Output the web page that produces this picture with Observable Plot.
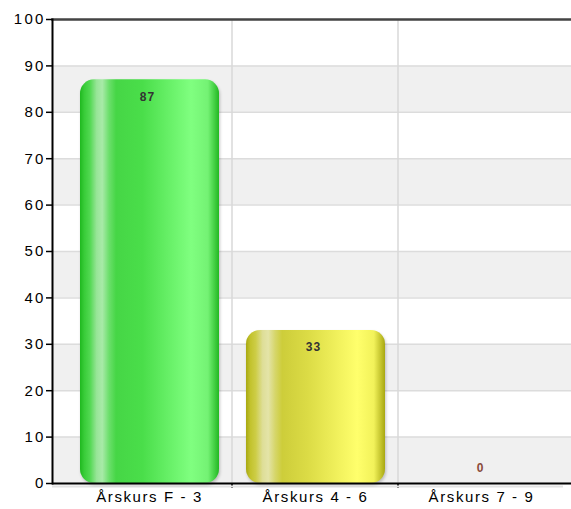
<!DOCTYPE html>
<html>
<head>
<meta charset="utf-8">
<script src="https://cdn.jsdelivr.net/npm/d3@7"></script>
<script src="https://cdn.jsdelivr.net/npm/@observablehq/plot@0.6"></script>
<style>
  html, body { margin: 0; padding: 0; background: #fff; }
  svg { font-family: "Liberation Sans", Arial, sans-serif; }
  g[aria-label="bar"] rect { filter: drop-shadow(1px 2px 1.5px rgba(0,0,0,0.22)); }
  g[aria-label="y-axis tick label"] text { letter-spacing: 2.2px; }
  g[aria-label="x-axis tick label"] text { letter-spacing: 1.6px; }
  g[aria-label="text"] text { letter-spacing: 1px; }
</style>
</head>
<body>
<div id="chart"></div>
<script>
const categories = ["Årskurs F - 3", "Årskurs 4 - 6", "Årskurs 7 - 9"];
const values = [87, 33, 0];
const yTicks = [0, 10, 20, 30, 40, 50, 60, 70, 80, 90, 100];
const bandStarts = [0, 20, 40, 60, 80];

const data = categories.map((c, i) => ({cat: c, value: values[i]}));

const gradients = [
  [[0, "#1fb81f"], [0.03, "#38cc38"], [0.07, "#50d850"], [0.12, "#98e598"], [0.16, "#a8eaa8"], [0.21, "#6adf6a"], [0.26, "#46d646"], [0.45, "#4ade4a"], [0.8, "#80ff80"], [0.92, "#74f274"], [1, "#22b822"]],
  [[0, "#a8a812"], [0.03, "#c2c22c"], [0.07, "#cdcd46"], [0.12, "#dede98"], [0.16, "#e4e4a8"], [0.21, "#d6d66a"], [0.26, "#cdcd3a"], [0.45, "#dcdc46"], [0.8, "#ffff6c"], [0.92, "#f2f25a"], [1, "#a8a812"]],
  [[0, "#aa5544"], [1, "#aa5544"]]
];

const defsMark = () => {
  const defs = d3.create("svg:defs");
  gradients.forEach((stops, i) => {
    const g = defs.append("linearGradient").attr("id", "grad" + i)
      .attr("x1", "0").attr("x2", "1").attr("y1", "0").attr("y2", "0");
    stops.forEach(([o, c]) => g.append("stop").attr("offset", o).attr("stop-color", c));
  });
  return defs.node();
};

const boundaryMark = (index, scales, values2, dims) => {
  const g = d3.create("svg:g");
  categories.slice(1).forEach(c => {
    const x = scales.x(c);
    g.append("line").attr("x1", x).attr("x2", x)
      .attr("y1", dims.marginTop).attr("y2", dims.height - dims.marginBottom)
      .attr("stroke", "#d8d8d8").attr("stroke-width", 1.5);
    g.append("line").attr("x1", x).attr("x2", x)
      .attr("y1", dims.height - dims.marginBottom).attr("y2", dims.height - dims.marginBottom + 5)
      .attr("stroke", "#000").attr("stroke-width", 1.5);
  });
  return g.node();
};

const chart = Plot.plot({
  width: 571,
  height: 509,
  marginLeft: 52,
  marginRight: 0,
  marginTop: 19,
  marginBottom: 26,
  style: {fontFamily: "Liberation Sans, Arial, sans-serif", background: "#fff"},
  x: {type: "band", domain: categories, range: [66, 564], padding: 0, label: null},
  y: {domain: [0, 100], label: null},
  marks: [
    defsMark,
    Plot.rect(bandStarts, {y1: d => d, y2: d => d + 10, fill: "#f0f0f0"}),
    Plot.gridY(yTicks, {stroke: "#dcdcdc", strokeOpacity: 1, strokeWidth: 1.5}),
    boundaryMark,
    Plot.ruleY([0], {stroke: "#e2e2e2", strokeWidth: 2, dy: 3, insetRight: 8}),
    ...categories.map((c, i) => Plot.barY(data.filter(d => d.cat === c), {
      x: "cat", y: "value", insetLeft: 14, insetRight: 13, rx: 14, fill: `url(#grad${i})`
    })),
    Plot.text(data.filter(d => d.value > 0), {
      x: "cat", y: "value", text: d => String(d.value), dy: 17, dx: -2,
      fontWeight: "bold", fontSize: 12, fill: "#333"
    }),
    Plot.text(data.filter(d => d.value === 0), {
      x: "cat", y: "value", text: d => String(d.value), dy: -15, dx: -1,
      fontWeight: "bold", fontSize: 12, fill: "#8a4a3a"
    }),
    Plot.frame({anchor: "top", stroke: "#444", strokeWidth: 2.5}),
    Plot.frame({anchor: "left", stroke: "#000", strokeWidth: 2}),
    Plot.ruleY([0], {stroke: "#000", strokeWidth: 2}),
    Plot.axisY({ticks: yTicks, tickSize: 6, tickPadding: 1, fontSize: 15, color: "#000", label: null, strokeWidth: 1.5}),
    Plot.axisX({tickSize: 0, tickPadding: 8, fontSize: 15, color: "#000", label: null})
  ]
});
document.getElementById("chart").appendChild(chart);
</script>
</body>
</html>
